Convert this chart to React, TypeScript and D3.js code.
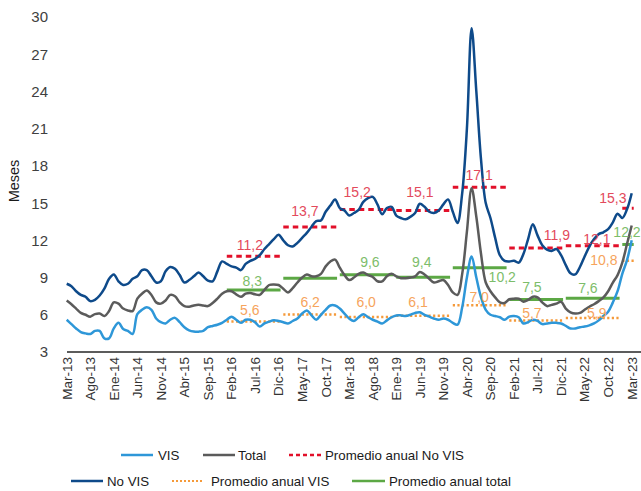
import React from "react";
import * as d3 from "d3";

// Monthly series, Mar-13 .. Mar-23 (121 months)
const noVis = [
  8.5, 8.3, 7.9, 7.6, 7.45, 7.1, 7.2, 7.55, 8.1, 8.9, 9.25, 8.7, 8.4, 8.5, 8.9, 9.1, 9.6, 9.6, 9.1, 8.6,
  8.7, 9.5, 9.85, 9.7, 9.2, 8.6, 8.8, 9.1, 9.4, 9.1, 8.75, 8.7, 9.5, 10.3, 10.1, 9.9, 9.8, 9.6, 10.1, 10.35,
  10.5, 10.8, 11.3, 11.7, 12.1, 12.45, 12.0, 11.6, 11.5, 11.8, 12.2, 12.6, 13.1, 13.55, 13.6, 14.3, 14.8, 15.3, 14.6, 14.4,
  14.0, 14.2, 14.45, 15.1, 15.4, 15.5, 14.9, 14.1, 14.6, 14.7, 14.0, 13.8, 13.7, 13.9, 14.2, 14.95, 14.7, 14.3, 14.2, 14.4,
  14.9, 15.3, 14.3, 13.4, 15.8, 21.0, 29.1, 24.0, 18.5, 15.0, 13.8, 12.2, 10.8, 10.35, 10.3, 10.35, 10.2, 10.9, 12.1, 13.3,
  12.4, 11.6, 11.25, 11.15, 11.3, 10.8, 10.0, 9.35, 9.25, 9.85, 10.7, 11.5, 12.1, 12.5, 12.65, 12.9, 13.45, 14.15, 13.8, 14.5,
  15.8,
];
const total = [
  7.15, 6.85, 6.5, 6.15, 6.0, 5.85, 6.05, 6.1, 5.9, 6.3, 7.0, 6.9, 6.5, 6.35, 6.3, 7.3, 7.7, 7.95, 7.6, 7.0,
  6.9, 7.15, 7.6, 7.5, 7.0, 6.7, 6.65, 6.75, 6.8, 6.75, 6.7, 6.95, 7.3, 7.7, 7.9, 7.9, 7.65, 7.45, 7.7, 7.75,
  7.65, 7.6, 8.0, 8.4, 8.45, 8.4, 8.1, 7.8, 8.15, 8.6, 9.0, 9.25, 9.1, 9.1, 9.3, 9.9, 10.3, 10.45, 9.8, 9.2,
  8.8, 9.0, 9.3, 9.4, 9.2, 9.05, 8.7, 8.7, 9.1, 9.3, 9.1, 8.95, 8.95, 9.0, 9.1, 9.45, 9.25, 8.9, 8.6, 8.7,
  8.8, 8.4, 7.8, 7.6, 9.3, 12.7, 16.2, 13.9, 10.9, 8.6, 7.9, 7.4, 7.0, 6.95, 7.25, 7.3, 7.3, 7.05, 7.2, 7.45,
  7.4, 7.0, 6.7, 6.8, 6.9, 7.05, 6.5, 6.2, 6.1, 6.15, 6.4, 6.65, 6.85, 7.1, 7.4, 7.9, 8.6, 9.2, 10.2, 11.7,
  13.2,
];
const vis = [
  5.6, 5.25, 4.9, 4.6, 4.5, 4.45, 4.7, 4.7, 4.1, 4.1, 4.9, 5.35, 4.85, 4.7, 4.45, 6.05, 6.4, 6.6, 6.4, 5.7,
  5.4, 5.3, 5.6, 5.75, 5.4, 5.0, 4.75, 4.65, 4.64, 4.7, 5.0, 5.1, 5.2, 5.35, 5.6, 5.85, 5.6, 5.35, 5.6, 5.6,
  5.4, 5.05, 5.3, 5.45, 5.55, 5.5, 5.4, 5.3, 5.5, 5.7, 6.1, 6.35, 5.95, 5.6, 6.0, 6.4, 6.75, 6.75, 6.5, 6.1,
  5.7, 5.5, 5.8, 6.05, 5.8, 5.6, 5.45, 5.3, 5.55, 5.8, 5.95, 5.95, 5.9, 6.0, 6.15, 6.2, 6.0, 5.85, 5.7, 5.6,
  5.7, 5.6, 5.35, 5.2, 6.6, 9.0, 10.7, 9.0, 7.4, 6.4, 6.0, 5.9, 5.8, 5.6, 5.85, 5.9, 5.8, 5.3, 5.4, 5.6,
  5.5, 5.25, 5.3, 5.35, 5.35, 5.3, 5.1, 4.9, 4.9, 5.0, 5.05, 5.15, 5.3, 5.55, 5.9, 6.25, 7.0, 7.9, 9.3, 10.4,
  12.0,
];

// Annual averages
const avgYears = [2016, 2017, 2018, 2019, 2020, 2021, 2022, 2023];
const avgNoVis = [11.2, 13.7, 15.2, 15.1, 17.1, 11.9, 12.1, 15.3];
const avgVis = [5.6, 6.2, 6.0, 6.1, 7.0, 5.7, 5.9, 10.8];
const avgTotal = [8.3, 9.3, 9.6, 9.4, 10.2, 7.5, 7.6, 12.2];
const avgTotalShown = [true, false, true, true, true, true, true, true];

const xTickLabels = [
  "Mar-13", "Ago-13", "Ene-14", "Jun-14", "Nov-14", "Abr-15", "Sep-15", "Feb-16", "Jul-16", "Dic-16",
  "May-17", "Oct-17", "Mar-18", "Ago-18", "Ene-19", "Jun-19", "Nov-19", "Abr-20", "Sep-20", "Feb-21",
  "Jul-21", "Dic-21", "May-22", "Oct-22", "Mar-23",
];
const yTicks = [3, 6, 9, 12, 15, 18, 21, 24, 27, 30];

// Label anchors (layout): [month index of centre, baseline on primary axis]
const redLabelPos = [[38.9, 11.2], [50.6, 13.95], [61.7, 15.5], [75.0, 15.5], [87.6, 16.86], [104.1, 12.0], [112.6, 11.7], [116.0, 15.0]];
const greenLabelPos = [[39.4, 8.32], [51, 9.8], [64.4, 9.83], [75.4, 9.83], [92.5, 8.66], [98.8, 7.86], [110.7, 7.73], [119.0, 12.29]];
const orangeLabelPos = [[38.9, 5.98], [51.7, 6.65], [63.6, 6.65], [74.6, 6.65], [87.6, 7.05], [98.8, 5.72], [112.6, 5.72], [114.1, 10.0]];

const C = {
  noVis: "#0e4a8a",
  vis: "#2e97d8",
  total: "#5b5b5b",
  red: "#e2102a",
  redText: "#e34a5c",
  orange: "#f59a3a",
  orangeText: "#f6a45c",
  green: "#5ca845",
  greenText: "#7dbd6a",
};

const FONT = "'Liberation Sans', Arial, sans-serif";

export default function App() {
  const n = noVis.length;
  const x = d3.scaleLinear().domain([0, n - 1]).range([66.7, 631.7]);
  const y = d3.scaleLinear().domain([3, 30]).range([352, 17]);
  const y2 = d3.scaleLinear().domain([3, 31.66]).range([352, 17]);

  const line = d3
    .line<number>()
    .x((_, i) => x(i))
    .y((d) => y(d))
    .curve(d3.curveCatmullRom.alpha(0.5));

  const fmt = (v: number) => v.toFixed(1).replace(".", ",");

  const segs = avgYears.map((yr) => {
    const start = (yr - 2013) * 12 - 2;
    const end = Math.min(start + 11, n - 1);
    return [x(start), x(end) + 2];
  });

  const legendRow1 = 455;
  const legendRow2 = 481;

  return (
    <svg
      width={641}
      height={491}
      style={{ position: "absolute", left: 0, top: 0, background: "#fff" }}
      fontFamily={FONT}
    >
      {/* y ticks */}
      {yTicks.map((t) => (
        <text key={t} x={48} y={y(t)} dy="0.36em" textAnchor="end" fontSize={15} fill="#404040">
          {t}
        </text>
      ))}
      <text transform={`translate(19,${181}) rotate(-90)`} textAnchor="middle" fontSize={14.5} fill="#1a1a1a">
        Meses
      </text>

      {/* axis */}
      <line x1={67} x2={641} y1={352} y2={352} stroke="#262626" strokeWidth={1.5} />
      {xTickLabels.map((lab, k) => (
        <text
          key={lab}
          transform={`translate(${x(k * 5)},357) rotate(-90)`}
          dy="0.36em"
          textAnchor="end"
          fontSize={13.5}
          fill="#333"
        >
          {lab}
        </text>
      ))}

      {/* averages */}
      {segs.map(([a, b], k) => (
        <g key={"avg" + k}>
          <line x1={a} x2={b} y1={y2(avgTotal[k])} y2={y2(avgTotal[k])} stroke={C.green} strokeWidth={3} />
          <line
            x1={a}
            x2={b}
            y1={y2(avgVis[k])}
            y2={y2(avgVis[k])}
            stroke={C.orange}
            strokeWidth={2.5}
            strokeDasharray="2.2 2.4"
          />
          <line
            x1={a}
            x2={b}
            y1={y2(avgNoVis[k])}
            y2={y2(avgNoVis[k])}
            stroke={C.red}
            strokeWidth={3}
            strokeDasharray="5.5 4"
          />
        </g>
      ))}

      {/* series */}
      <path d={line(vis) ?? ""} fill="none" stroke={C.vis} strokeWidth={2.5} strokeLinejoin="round" />
      <path d={line(total) ?? ""} fill="none" stroke={C.total} strokeWidth={2.5} strokeLinejoin="round" />
      <path d={line(noVis) ?? ""} fill="none" stroke={C.noVis} strokeWidth={2.5} strokeLinejoin="round" />

      {/* labels */}
      {avgYears.map((_, k) => (
        <g key={"lab" + k} fontSize={14}>
          <text x={x(redLabelPos[k][0])} y={y(redLabelPos[k][1])} textAnchor="middle" fill={C.redText}>
            {fmt(avgNoVis[k])}
          </text>
          {avgTotalShown[k] && (
            <text x={x(greenLabelPos[k][0])} y={y(greenLabelPos[k][1])} textAnchor="middle" fill={C.greenText}>
              {fmt(avgTotal[k])}
            </text>
          )}
          <text x={x(orangeLabelPos[k][0])} y={y(orangeLabelPos[k][1])} textAnchor="middle" fill={C.orangeText}>
            {fmt(avgVis[k])}
          </text>
        </g>
      ))}

      {/* legend */}
      <g fontSize={13.3} fill="#1a1a1a">
        <line x1={121} x2={153} y1={legendRow1} y2={legendRow1} stroke={C.vis} strokeWidth={2.5} />
        <text x={158} y={legendRow1} dy="0.36em">VIS</text>
        <line x1={203} x2={235} y1={legendRow1} y2={legendRow1} stroke={C.total} strokeWidth={2.5} />
        <text x={238} y={legendRow1} dy="0.36em">Total</text>
        <line x1={289} x2={322} y1={legendRow1} y2={legendRow1} stroke={C.red} strokeWidth={2.5} strokeDasharray="4 3" />
        <text x={325} y={legendRow1} dy="0.36em">Promedio anual No VIS</text>

        <line x1={71} x2={103} y1={legendRow2} y2={legendRow2} stroke={C.noVis} strokeWidth={2.5} />
        <text x={107} y={legendRow2} dy="0.36em">No VIS</text>
        <line x1={172} x2={204} y1={legendRow2} y2={legendRow2} stroke={C.orange} strokeWidth={2} strokeDasharray="2 2" />
        <text x={211} y={legendRow2} dy="0.36em">Promedio anual VIS</text>
        <line x1={352} x2={385} y1={legendRow2} y2={legendRow2} stroke={C.green} strokeWidth={2.5} />
        <text x={389} y={legendRow2} dy="0.36em">Promedio anual total</text>
      </g>
    </svg>
  );
}
